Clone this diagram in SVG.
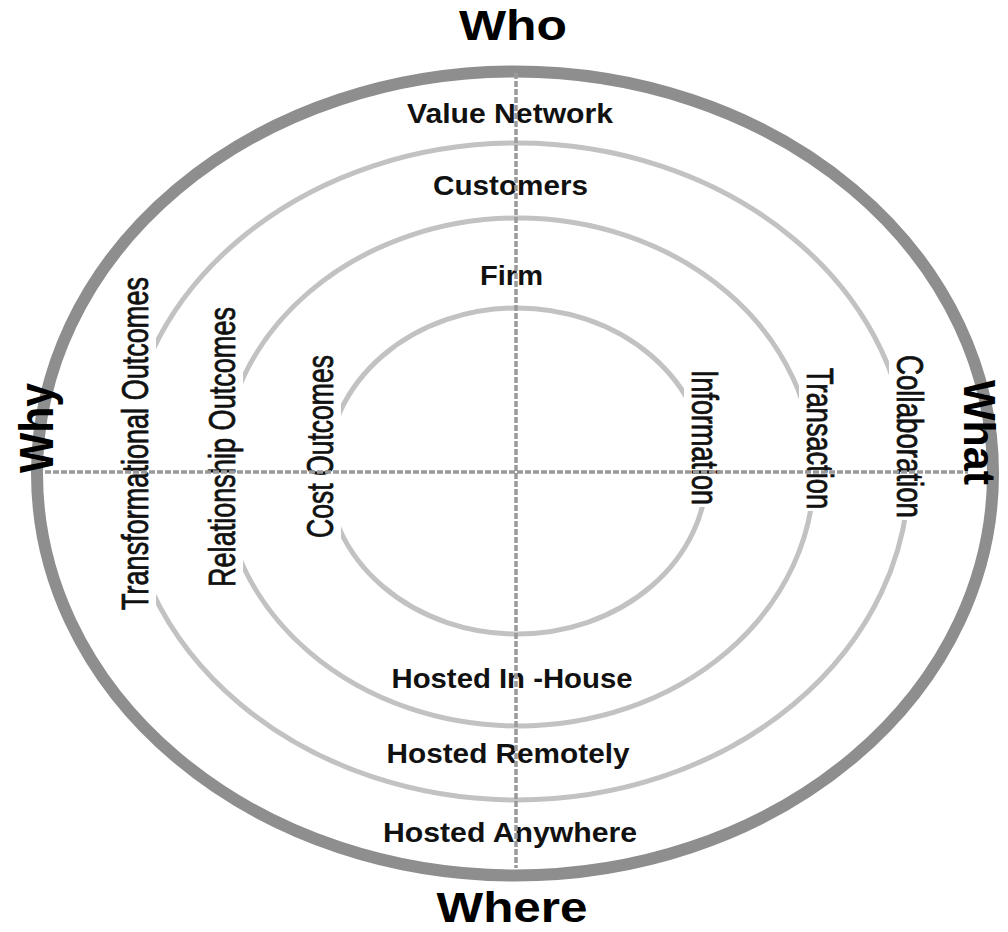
<svg xmlns="http://www.w3.org/2000/svg" width="1008" height="932" viewBox="0 0 1008 932">
<style>
.outer{fill:none;stroke:#8e8e8e;stroke-width:12}
.ring{fill:none;stroke:#c2c2c2;stroke-width:5}
.axis{fill:none;stroke:#9a9a9a;stroke-width:3.5;stroke-dasharray:6 2}
.bg{fill:#ffffff}
.hl{font-family:"Liberation Sans",Arial,sans-serif;font-weight:bold;font-size:28px;fill:#111;text-anchor:middle}
.vl{font-family:"Liberation Sans",Arial,sans-serif;font-weight:normal;font-size:37px;fill:#111;stroke:#111;stroke-width:0.8;text-anchor:middle}
.big{font-family:"Liberation Sans",Arial,sans-serif;font-weight:bold;fill:#000;text-anchor:middle}
</style>
<rect width="1008" height="932" fill="#ffffff"/>
<g id="rings">
<ellipse id="ring-outer" class="outer" cx="515" cy="473.5" rx="478" ry="402"/>
<ellipse id="ring-2" class="ring" cx="517" cy="471.5" rx="392" ry="328.5"/>
<ellipse id="ring-3" class="ring" cx="518" cy="472" rx="296" ry="254"/>
<ellipse id="ring-inner" class="ring" cx="517" cy="471" rx="190" ry="163"/>
</g>
<g id="label-transformational">
<rect class="bg" x="120" y="275" width="36" height="337"/>
<text class="vl" transform="translate(148,443.5) rotate(-90)" textLength="333" lengthAdjust="spacingAndGlyphs">Transformational Outcomes</text>
</g>
<g id="label-relationship">
<rect class="bg" x="207" y="305" width="36" height="284"/>
<text class="vl" transform="translate(235,447) rotate(-90)" textLength="280" lengthAdjust="spacingAndGlyphs">Relationship Outcomes</text>
</g>
<g id="label-cost">
<rect class="bg" x="305" y="353" width="36" height="187"/>
<text class="vl" transform="translate(333,446.5) rotate(-90)" textLength="183" lengthAdjust="spacingAndGlyphs">Cost Outcomes</text>
</g>
<g id="label-information">
<rect class="bg" x="684" y="368" width="38" height="139"/>
<text class="vl" transform="translate(692,437.5) rotate(90)" textLength="135" lengthAdjust="spacingAndGlyphs">Information</text>
</g>
<g id="label-transaction">
<rect class="bg" x="799" y="366" width="38" height="145"/>
<text class="vl" transform="translate(807,438.5) rotate(90)" textLength="141" lengthAdjust="spacingAndGlyphs">Transaction</text>
</g>
<g id="label-collaboration">
<rect class="bg" x="889" y="353" width="38" height="167"/>
<text class="vl" transform="translate(897,436.5) rotate(90)" textLength="163" lengthAdjust="spacingAndGlyphs">Collaboration</text>
</g>
<g id="label-value-network"><text class="hl" x="510" y="123" textLength="206" lengthAdjust="spacingAndGlyphs">Value Network</text></g>
<g id="label-customers"><text class="hl" x="510.5" y="195" textLength="155" lengthAdjust="spacingAndGlyphs">Customers</text></g>
<g id="label-firm"><text class="hl" x="511.5" y="285" textLength="63" lengthAdjust="spacingAndGlyphs">Firm</text></g>
<g id="label-in-house"><text class="hl" x="512" y="688" textLength="241" lengthAdjust="spacingAndGlyphs">Hosted In -House</text></g>
<g id="label-remotely"><text class="hl" x="508" y="763" textLength="243" lengthAdjust="spacingAndGlyphs">Hosted Remotely</text></g>
<g id="label-anywhere"><text class="hl" x="510" y="842" textLength="254" lengthAdjust="spacingAndGlyphs">Hosted Anywhere</text></g>
<g id="connectors">
<line class="axis" x1="516" y1="73" x2="516" y2="868"/>
<line class="axis" x1="45" y1="472" x2="968" y2="472"/>
</g>
<g id="label-who"><text class="big" x="513" y="40" font-size="42" textLength="108" lengthAdjust="spacingAndGlyphs">Who</text></g>
<g id="label-where"><text class="big" x="512" y="922" font-size="42" textLength="151" lengthAdjust="spacingAndGlyphs">Where</text></g>
<g id="label-why"><text class="big" transform="translate(53,428) rotate(-90)" font-size="48" textLength="90" lengthAdjust="spacingAndGlyphs">Why</text></g>
<g id="label-what"><text class="big" transform="translate(964,432.5) rotate(90)" font-size="44" textLength="105" lengthAdjust="spacingAndGlyphs">What</text></g>
</svg>
